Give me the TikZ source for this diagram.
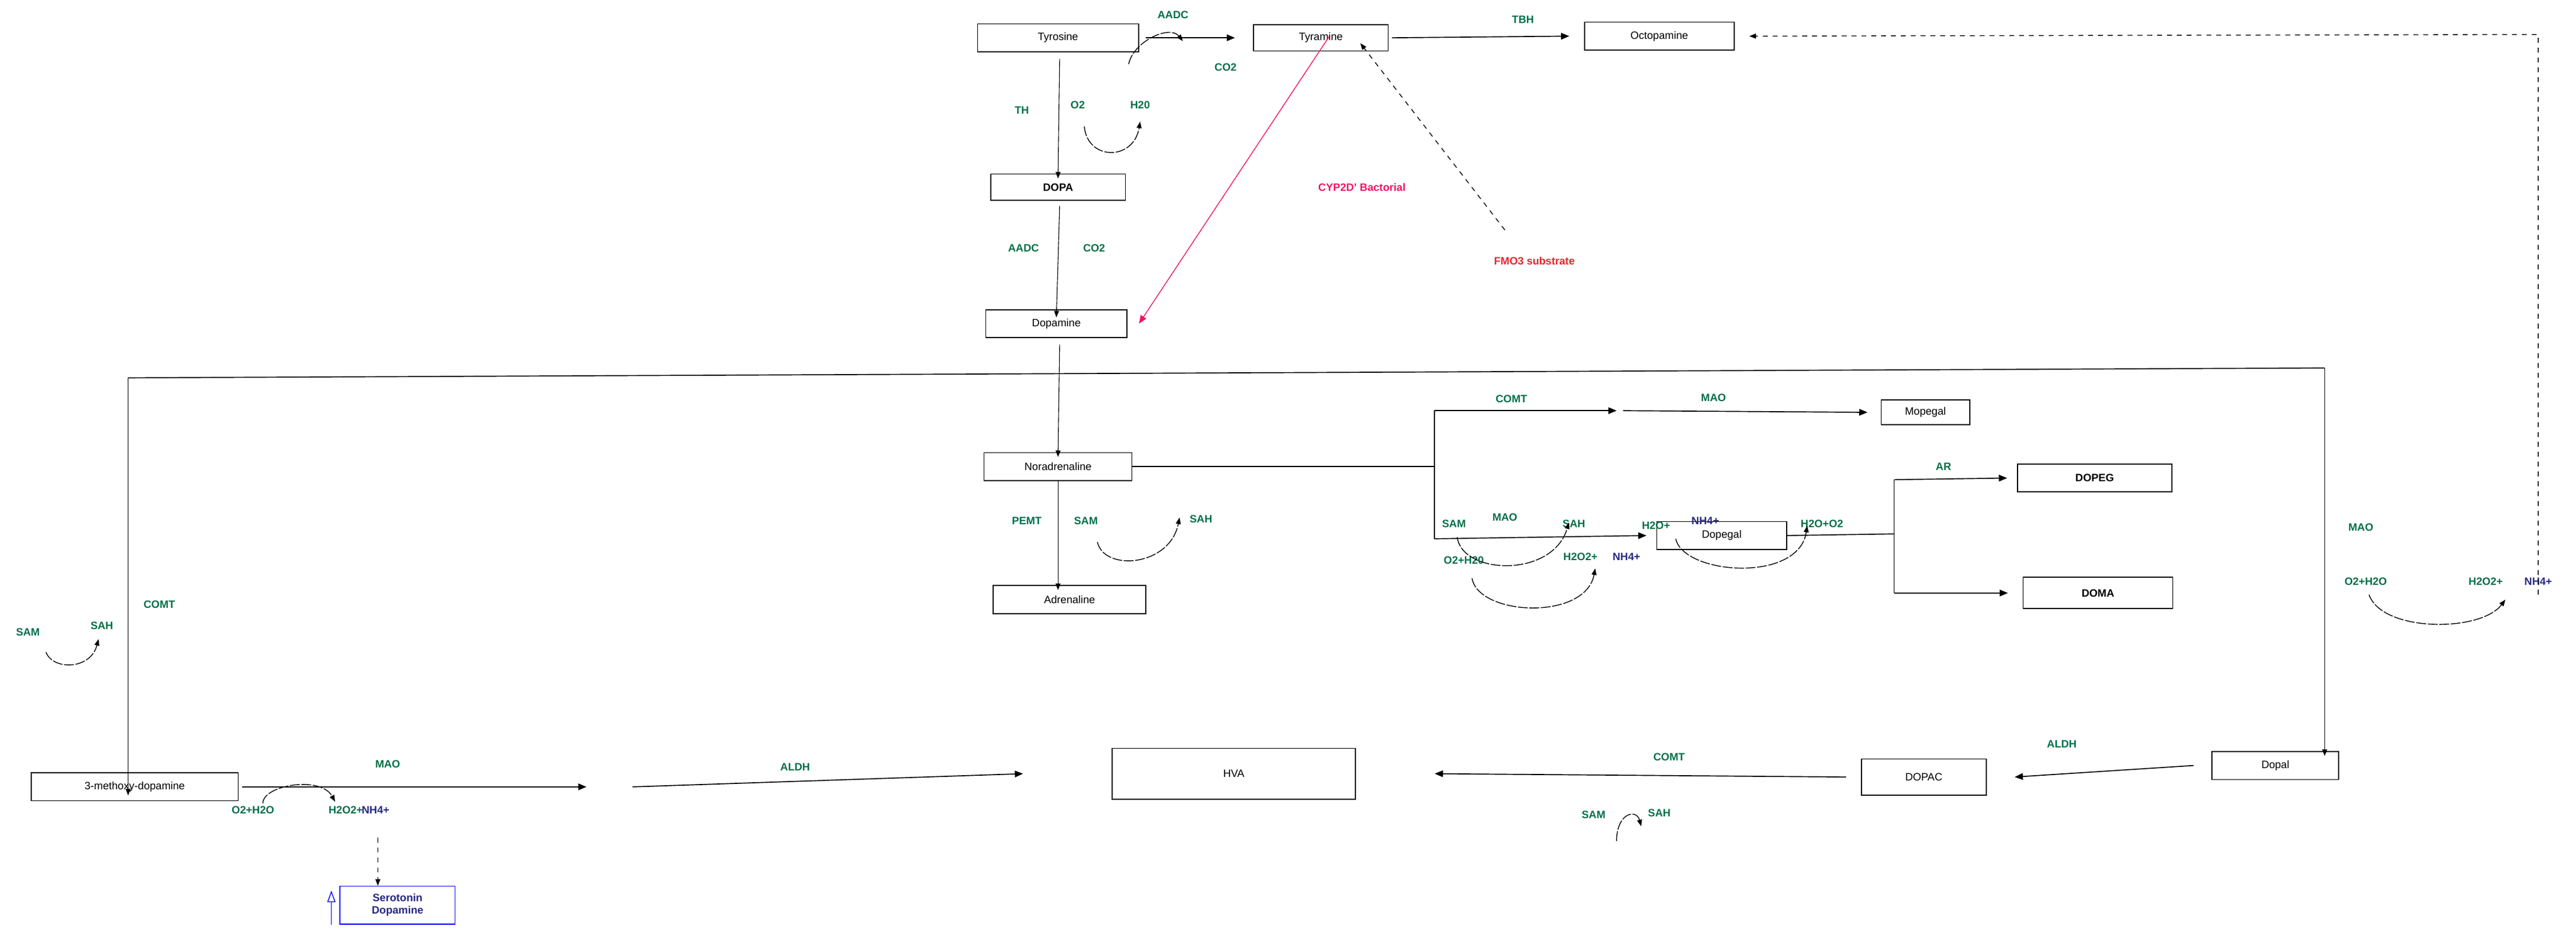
\documentclass[tikz,border=0pt]{standalone}
\usepackage{fontspec}
\setmainfont{Liberation Sans}
\usetikzlibrary{arrows.meta}
\definecolor{eg}{RGB}{0,112,72}
\definecolor{nv}{RGB}{40,40,130}
\definecolor{rd}{RGB}{235,35,45}
\definecolor{pk}{RGB}{240,20,100}
\begin{document}
\begin{tikzpicture}[x=1pt,y=-1pt,
 box/.style={draw,line width=0.6pt,fill=white,inner sep=0pt,font=\fontsize{6.5}{7.5}\selectfont},
 lab/.style={text=eg,font=\bfseries\fontsize{6.5}{7.5}\selectfont,inner sep=0pt},
 lb/.style={text=nv,font=\bfseries\fontsize{6.5}{7.5}\selectfont,inner sep=0pt},
 ar/.style={-{Triangle[length=5pt,width=4pt]},line width=0.6pt},
 tr/.style={-{Triangle[length=4pt,width=3pt]},line width=0.4pt},
 cu/.style={-{Triangle[length=4pt,width=3pt]},line width=0.5pt}]
\useasboundingbox (0,0) rectangle (1568,574);
% boxes
\node[box,minimum width=98,minimum height=17] (tyr) at (644,23) {Tyrosine};
\node[box,minimum width=82,minimum height=16] (tym) at (804,23) {Tyramine};
\node[box,minimum width=91,minimum height=17] (oct) at (1010,22) {Octopamine};
\node[box,minimum width=82,minimum height=16,font=\bfseries\fontsize{6.5}{7.5}\selectfont] (dopa) at (644,114) {DOPA};
\node[box,minimum width=86,minimum height=17] (dop) at (643,197) {Dopamine};
\node[box,minimum width=90,minimum height=17] (nor) at (644,284) {Noradrenaline};
\node[box,minimum width=93,minimum height=17] (adr) at (651,365) {Adrenaline};
\node[box,minimum width=54,minimum height=15] (mop) at (1172,251) {Mopegal};
\node[box,minimum width=79,minimum height=17] (dpg) at (1048,326) {Dopegal};
\node[box,minimum width=94,minimum height=17,font=\bfseries\fontsize{6.5}{7.5}\selectfont] (dpeg) at (1275,291) {DOPEG};
\node[box,minimum width=91,minimum height=19,font=\bfseries\fontsize{6.5}{7.5}\selectfont] (doma) at (1277,361) {DOMA};
\node[box,minimum width=126,minimum height=17] (mtd) at (82,479) {3-methoxy-dopamine};
\node[box,minimum width=148,minimum height=31] (hva) at (751,471) {HVA};
\node[box,minimum width=76,minimum height=22] (dpac) at (1171,473) {DOPAC};
\node[box,minimum width=77,minimum height=17] (dpl) at (1385,466) {Dopal};
\node[box,draw=blue,text=nv,font=\bfseries\fontsize{6.5}{7.5}\selectfont,align=center,minimum width=70,minimum height=23] (ser) at (242,551) {Serotonin\\Dopamine};
% labels
\node[lab] (l1) at (714,9) {AADC};
\node[lab] (l2) at (746,41) {CO2};
\node[lab] (l3) at (927,12) {TBH};
\node[lab] (l4) at (622,67) {TH};
\node[lab] (l5) at (656,64) {O2};
\node[lab] (l6) at (694,64) {H20};
\node[lab] (l7) at (623,151) {AADC};
\node[lab] (l8) at (666,151) {CO2};
\node[lab,text=pk] (l9) at (829,114) {CYP2D' Bactorial};
\node[lab,text=rd] (l10) at (934,159) {FMO3 substrate};
\node[lab] (l11) at (920,243) {COMT};
\node[lab] (l12) at (1043,242) {MAO};
\node[lab] (l13) at (885,319) {SAM};
\node[lab] (l14) at (958,319) {SAH};
\node[lab] (l15) at (1008,320) {H2O+};
\node[lb] (l16) at (1038,317) {NH4+};
\node[lab] (l17) at (1109,319) {H2O+O2};
\node[lab] (l18) at (916,315) {MAO};
\node[lab] (l19) at (891,341) {O2+H20};
\node[lab] (l20) at (962,339) {H2O2+};
\node[lb] (l21) at (990,339) {NH4+};
\node[lab] (l22) at (1183,284) {AR};
\node[lab] (l23) at (625,317) {PEMT};
\node[lab] (l24) at (661,317) {SAM};
\node[lab] (l25) at (731,316) {SAH};
\node[lab] (l26) at (1437,321) {MAO};
\node[lab] (l27) at (1440,354) {O2+H2O};
\node[lab] (l28) at (1513,354) {H2O2+};
\node[lb] (l29) at (1545,354) {NH4+};
\node[lab] (l30) at (97,368) {COMT};
\node[lab] (l31) at (17,385) {SAM};
\node[lab] (l32) at (62,381) {SAH};
\node[lab] (l33) at (236,465) {MAO};
\node[lab] (l34) at (154,493) {O2+H2O};
\node[lab,anchor=east] (l35) at (221,493) {H2O2+};
\node[lb,anchor=west] (l36) at (220,493) {NH4+};
\node[lab] (l37) at (484,467) {ALDH};
\node[lab] (l38) at (1016,461) {COMT};
\node[lab] (l39) at (970,496) {SAM};
\node[lab] (l40) at (1010,495) {SAH};
\node[lab] (l41) at (1255,453) {ALDH};
% coordinates
\coordinate (L) at (78,230);
\coordinate (R) at (1415,224);
\coordinate (b1) at (873,250);
\coordinate (b2) at (873,328);
\coordinate (b0) at (873,284);
\coordinate (m1) at (988,250);
\coordinate (d1) at (1153,292);
\coordinate (d2) at (1153,361);
\coordinate (d0) at (1153,325);
\coordinate (t1) at (357,479);
\coordinate (t2) at (385,479);
\coordinate (da) at (1545,362);
\coordinate (db) at (1545,21);
\coordinate (fm) at (916,140);
% main arrows
\draw[ar] (tyr.east)++(4,0) -- ([xshift=-11]tym.west);
\draw[ar] (tym.east)++(2,0) -- ([xshift=-9]oct.west);
\draw[tr] (tyr.south) ++(1,4) -- ([yshift=-3]dopa.north);
\draw[tr] (dopa.south)++(1,3) -- ([yshift=-5]dop.north);
\draw[tr] (dop.south)++(2,4) -- ([yshift=-3]nor.north);
\draw[tr] (nor.south) -- ([yshift=-3]adr.north-|nor.south);
\draw[pk,line width=0.5pt,-{Triangle[length=5pt,width=4pt]}] ([xshift=5,yshift=9]tym.south) -- ([xshift=7]dop.east);
\draw[dashed,cu] (fm) -- ([xshift=24,yshift=5]tym.south);
\draw[dashed,cu] (da) -- (db) -- ([xshift=9]oct.east);
\draw[line width=0.6pt] (L) -- (R);
\draw[tr] (L) -- ([yshift=-14]mtd.north-|L);
\draw[tr] (R) -- ([yshift=-3]dpl.north-|R);
\draw[line width=0.6pt] (nor.east) -- (b0);
\draw[line width=0.6pt] (b1) -- (b2);
\draw[ar] (b1) -- ([xshift=-4]m1);
\draw[ar] (m1) -- ([xshift=-8]mop.west);
\draw[ar] (b2) -- ([xshift=-6]dpg.west);
\draw[line width=0.6pt] (dpg.east) -- (d0);
\draw[line width=0.6pt] (d1) -- (d2);
\draw[ar] (d1) -- ([xshift=-6]dpeg.west);
\draw[ar] (d2) -- ([xshift=-9]doma.west);
\draw[ar] ([xshift=2]mtd.east) -- (t1);
\draw[ar] (t2) -- ([xshift=-54]hva.west);
\draw[ar] ([xshift=-9]dpac.west) -- ([xshift=48]hva.east);
\draw[ar] ([xshift=-11]dpl.west) -- ([xshift=17]dpac.east);
\draw[dashed,cu] (230,510) -- (ser.north-|230,0);
\draw[blue,line width=0.5pt,-{Triangle[open,length=7pt,width=5pt]}] ([xshift=-5]ser.south west) -- ([xshift=-5,yshift=-3]ser.north west);
% curved side arrows
\draw[cu,dashed,dash pattern=on 6pt off 1pt] (687,39) .. controls (690,25) and (712,15) .. (720,25);
\draw[cu,dashed,dash pattern=on 6pt off 1pt] (660,77) .. controls (662,98) and (690,98) .. (694,74);
\draw[cu,dashed,dash pattern=on 6pt off 1pt] (887,327) .. controls (890,350) and (945,352) .. (955,318);
\draw[cu,dashed,dash pattern=on 6pt off 1pt] (1020,328) .. controls (1025,350) and (1095,355) .. (1100,320);
\draw[cu,dashed,dash pattern=on 6pt off 1pt] (896,352) .. controls (900,375) and (965,378) .. (971,346);
\draw[cu,dashed,dash pattern=on 6pt off 1pt] (668,330) .. controls (672,348) and (712,345) .. (718,315);
\draw[cu,dashed,dash pattern=on 6pt off 1pt] (1442,362) .. controls (1450,385) and (1510,385) .. (1525,365);
\draw[cu,dashed,dash pattern=on 6pt off 1pt] (28,397) .. controls (32,408) and (55,408) .. (60,389);
\draw[cu,dashed,dash pattern=on 6pt off 1pt] (160,489) .. controls (160,478) and (195,472) .. (204,488);
\draw[cu,dashed,dash pattern=on 6pt off 1pt] (984,512) .. controls (984,495) and (996,492) .. (999,503);
\end{tikzpicture}
\end{document}
